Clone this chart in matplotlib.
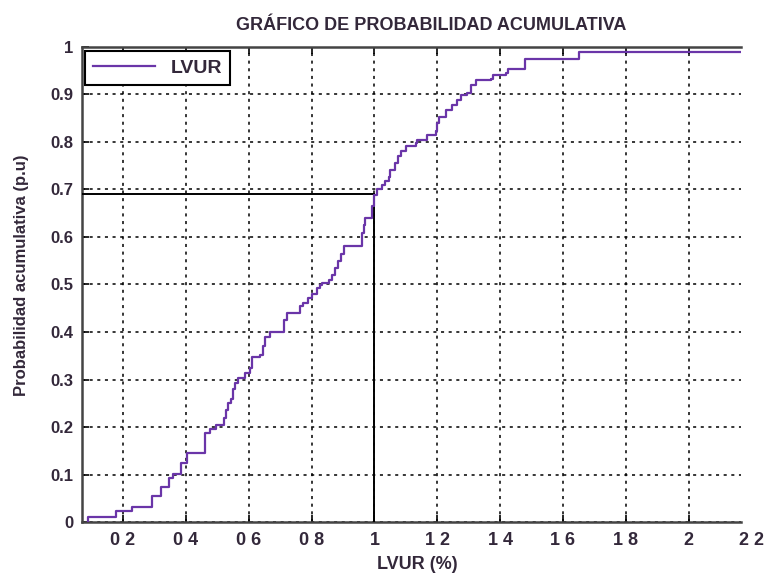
import matplotlib
matplotlib.use("Agg")
import matplotlib.pyplot as plt
import numpy as np

# cumulative probability steps (x in %, y in p.u.)
step_x = [0.090, 0.177, 0.229, 0.292, 0.320, 0.345, 0.359, 0.383, 0.405, 0.462,
          0.476, 0.497, 0.522, 0.529, 0.535, 0.545, 0.550, 0.557, 0.567, 0.588,
          0.604, 0.609, 0.636, 0.645, 0.652, 0.668, 0.711, 0.721, 0.764, 0.774,
          0.790, 0.800, 0.817, 0.828, 0.833, 0.854, 0.865, 0.875, 0.885, 0.893,
          0.902, 0.961, 0.966, 0.971, 0.993, 0.998, 1.009, 1.025, 1.035, 1.046,
          1.051, 1.067, 1.075, 1.083, 1.099, 1.131, 1.137, 1.168, 1.195, 1.200,
          1.206, 1.227, 1.248, 1.264, 1.275, 1.296, 1.307, 1.323, 1.371, 1.376,
          1.419, 1.424, 1.480, 1.650]
step_y = [0.011, 0.023, 0.032, 0.055, 0.073, 0.092, 0.102, 0.124, 0.146, 0.187,
          0.197, 0.204, 0.220, 0.236, 0.250, 0.260, 0.280, 0.292, 0.303, 0.313,
          0.324, 0.347, 0.352, 0.370, 0.390, 0.400, 0.425, 0.439, 0.455, 0.460,
          0.471, 0.480, 0.492, 0.499, 0.503, 0.510, 0.520, 0.534, 0.550, 0.565,
          0.580, 0.608, 0.625, 0.639, 0.665, 0.688, 0.700, 0.709, 0.718, 0.727,
          0.741, 0.755, 0.770, 0.780, 0.792, 0.797, 0.804, 0.815, 0.822, 0.839,
          0.853, 0.867, 0.878, 0.888, 0.899, 0.902, 0.920, 0.929, 0.932, 0.941,
          0.945, 0.953, 0.974, 0.989]
x_end = 2.2

x_ticks = [0.2, 0.4, 0.6, 0.8, 1.0, 1.2, 1.4, 1.6, 1.8, 2.0]
x_ticklabels = ["0 2", "0 4", "0 6", "0 8", "1", "1 2", "1 4", "1 6", "1 8", "2"]
y_ticks = [0, 0.1, 0.2, 0.3, 0.4, 0.5, 0.6, 0.7, 0.8, 0.9, 1]
y_ticklabels = ["0", "0.1", "0.2", "0.3", "0.4", "0.5", "0.6", "0.7", "0.8", "0.9", "1"]

ref_x = 1.0
ref_y = 0.69

line_color = "#6a35a8"
text_color = "#33283a"

plt.rcParams['font.family'] = ['Liberation Sans', 'DejaVu Sans']

fig = plt.figure(figsize=(7.69, 5.77), dpi=100)
ax = fig.add_axes([0.106, 0.095, 0.857, 0.824])

xs = [step_x[0]] + step_x + [x_end]
ys = [0.0] + step_y + [step_y[-1]]
ax.plot(xs, ys, drawstyle='steps-post', color=line_color, lw=1.6, label='LVUR', zorder=4)

xmin, xmax = 0.068, 2.165
ax.set_xlim(xmin, xmax)
ax.set_ylim(0, 1)

# reading lines at 1 %
ax.plot([xmin, ref_x], [ref_y, ref_y], color='black', lw=1.4, zorder=3)
ax.plot([ref_x, ref_x], [0, ref_y], color='black', lw=1.4, zorder=3)

ax.set_xticks(x_ticks)
ax.set_xticklabels(x_ticklabels, fontsize=13, fontweight='bold', color=text_color)
ax.set_yticks(y_ticks)
ax.set_yticklabels(y_ticklabels, fontsize=12, fontweight='bold', color=text_color)
ax.annotate("2 2", xy=(2.2, 0), xycoords=('data', 'axes fraction'),
            xytext=(0, -7), textcoords='offset points', fontsize=13,
            fontweight='bold', color=text_color, ha='center', va='top',
            annotation_clip=False)

ax.tick_params(direction='in', length=5, width=1.2, top=True, right=False)
ax.tick_params(axis='x', pad=7)
ax.tick_params(axis='y', pad=6)
ax.grid(True, color='black', linestyle=(0, (2, 3)), lw=1.1)

for side in ['left', 'bottom', 'top']:
    ax.spines[side].set_linewidth(1.8)
    ax.spines[side].set_color('#444444')
ax.spines['right'].set_visible(False)

ax.set_title('GRÁFICO DE PROBABILIDAD ACUMULATIVA', fontsize=13, fontweight='bold',
             color=text_color, x=0.53, pad=12)
ax.set_xlabel('LVUR (%)', fontsize=13, fontweight='bold', color=text_color)
ax.xaxis.set_label_coords(0.51, -0.072)
ax.set_ylabel('Probabilidad acumulativa (p.u)', fontsize=12, fontweight='bold',
              color=text_color)
ax.yaxis.set_label_coords(-0.08, 0.52)

leg = ax.legend(loc='upper left', bbox_to_anchor=(0.006, 0.99),
                handlelength=3.2, fancybox=False, framealpha=1, borderaxespad=0,
                prop={'weight': 'bold', 'size': 14})
leg.get_frame().set_edgecolor('black')
leg.get_frame().set_linewidth(1.5)
for t in leg.get_texts():
    t.set_color(text_color)

fig.savefig('out.png', dpi=100)
